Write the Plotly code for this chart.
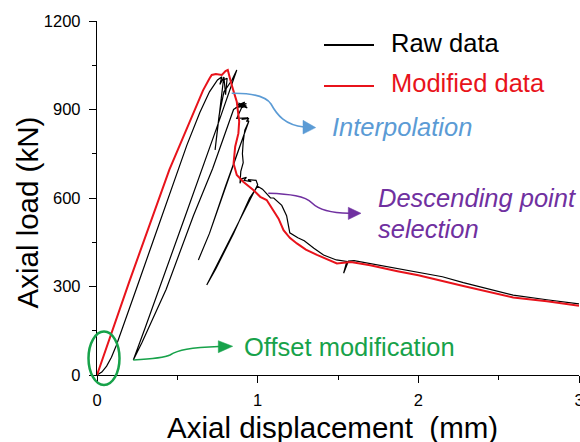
import plotly.graph_objects as go

# ---------------- data ----------------
raw_x = [0, 0.03, 0.06, 0.09, 0.12, 0.15, 0.25, 0.35, 0.475, 0.56, 0.64, 0.70, 0.75, 0.777,
         0.765, 0.790, 0.800, 0.810, 0.787, 0.735, 0.760, 0.790, 0.840, 0.870,
         0.740, 0.550, 0.400, 0.300, 0.226,
         0.280, 0.430, 0.600, 0.720, 0.850, 0.920,
         0.880, 0.930, 0.860, 0.920, 0.935, 0.870, 0.925, 0.880, 0.930, 0.900,
         0.870, 0.940, 0.900, 0.945, 0.930, 0.945,
         0.800, 0.700, 0.631, 0.700, 0.800, 0.945,
         0.920, 0.910, 0.905, 0.910, 0.895, 0.890, 0.900, 0.930, 0.915, 0.960, 0.940,
         0.990, 1.000,
         0.683, 0.740, 0.850, 0.950, 1.000,
         1.030, 1.060, 1.080, 1.100, 1.150, 1.180, 1.190, 1.200, 1.250, 1.290, 1.350, 1.410,
         1.490, 1.555, 1.535, 1.565, 1.600, 1.700, 1.870, 2.000, 2.150, 2.280, 2.450, 2.590,
         2.800, 3.000]
raw_y = [0, 10, 30, 60, 100, 145, 300, 455, 650, 780, 890, 960, 1000, 1011,
         985, 1010, 950, 1006, 1000, 763, 880, 960, 1000, 1034,
         830, 540, 310, 160, 51,
         110, 290, 540, 700, 900, 925,
         915, 920, 905, 912, 905, 918, 910, 922, 912, 906,
         870, 872, 866, 870, 860, 862,
         640, 480, 390, 480, 640, 860,
         830, 790, 750, 720, 690, 650, 665, 670, 660, 655, 662,
         660, 645,
         305, 360, 480, 600, 640,
         630, 612, 600, 600, 575, 540, 510, 482, 465, 455, 430, 407,
         390, 385, 345, 386, 388, 378, 362, 350, 333, 313, 291, 271,
         255, 241]

mod_x = [0, 0.20, 0.45, 0.52, 0.60, 0.66, 0.70, 0.714, 0.74, 0.777, 0.80, 0.814,
         0.84, 0.87, 0.885, 0.88, 0.86, 0.85, 0.87, 0.91, 0.973, 1.016, 1.056, 1.097,
         1.13, 1.161, 1.20, 1.244, 1.30, 1.369, 1.43, 1.493, 1.58, 1.70, 1.87, 2.00,
         2.28, 2.59, 2.80, 3.00]
mod_y = [0, 315, 695, 785, 890, 965, 1005, 1017, 1020, 1017, 1030, 1034,
         980, 926, 860, 819, 774, 717, 678, 655, 627, 604, 593, 559,
         530, 491, 465, 446, 425, 407, 392, 378, 383, 372, 352, 338,
         302, 263, 250, 235]

x_ticks = [0, 1, 2, 3]
x_minor = [0.5, 1.5, 2.5]
y_ticks = [0, 300, 600, 900, 1200]
y_minor = [150, 450, 750, 1050]

FONT = "Liberation Sans, Arial, sans-serif"
RED = "#E8131B"
BLUE = "#5B9BD5"
PURPLE = "#7030A0"
GREEN = "#17A24A"

# ---------------- layout geometry ----------------
W, H = 580, 442
L, R, T, B = 97, 1, 21, 67
PW, PH = W - L - R, H - T - B


def px(x):
    return (x - L) / PW


def py(y):
    return (H - B - y) / PH


def path(cmds):
    out = []
    for c in cmds:
        if isinstance(c, str):
            out.append(c)
        else:
            out.append(f"{px(c[0]):.5f},{py(c[1]):.5f}")
    return " ".join(out)


fig = go.Figure()
fig.add_trace(go.Scatter(x=raw_x, y=raw_y, mode="lines", name="Raw data",
                         line=dict(color="black", width=1.2), showlegend=False))
fig.add_trace(go.Scatter(x=mod_x, y=mod_y, mode="lines", name="Modified data",
                         line=dict(color=RED, width=2), showlegend=False))

shapes = []
# manual legend lines
shapes.append(dict(type="line", xref="paper", yref="paper", x0=px(324), x1=px(374),
                   y0=py(45), y1=py(45), line=dict(color="black", width=2.2)))
shapes.append(dict(type="line", xref="paper", yref="paper", x0=px(324), x1=px(374),
                   y0=py(86), y1=py(86), line=dict(color=RED, width=2.2)))
# green ellipse
shapes.append(dict(type="circle", xref="paper", yref="paper", x0=px(88.5), x1=px(119.5),
                   y0=py(385), y1=py(331.5), line=dict(color=GREEN, width=2.5)))
# arrows
arrows = [
    (BLUE, ["M", (231.7, 93.3), "C", (250, 93), (265, 95), (271, 104),
            "C", (277, 115), (285, 125), (304, 127)],
     [(303, 120.3), (315.7, 127.6), (303, 134)]),
    (PURPLE, ["M", (268.3, 193.3), "C", (290, 194), (305, 196), (312, 203),
              "C", (319, 210), (330, 213), (349, 213.3)],
     [(348.3, 207.3), (361, 213.3), (348.3, 219.5)]),
    (GREEN, ["M", (133.3, 360), "C", (150, 359), (164, 358), (170, 355),
             "C", (178, 350), (190, 347.5), (219, 346.5)],
     [(218.3, 340.7), (232.7, 346.3), (218.3, 352.7)]),
]
for col, cmds, tri in arrows:
    shapes.append(dict(type="path", xref="paper", yref="paper", path=path(cmds),
                       line=dict(color=col, width=1.6)))
    tp = ["M", tri[0], "L", tri[1], "L", tri[2], "Z"]
    shapes.append(dict(type="path", xref="paper", yref="paper", path=path(tp),
                       fillcolor=col, line=dict(color=col, width=0.5)))

ann = []


def text(t, x, y, color, size=25.5, anchor="left", angle=0):
    ann.append(dict(text=t, x=px(x), y=py(y), xref="paper", yref="paper",
                    xanchor=anchor, yanchor="middle", showarrow=False, textangle=angle,
                    font=dict(family=FONT, size=size, color=color)))


text("Raw data", 389, 42.5, "black")
text("Modified data", 389, 82.5, RED)
text("<i>Interpolation</i>", 330, 127.5, BLUE)
text("<i>Descending point</i>", 376, 198, PURPLE)
text("<i>selection</i>", 376, 228.5, PURPLE)
text("Offset modification", 241.5, 347, GREEN)
text("Axial displacement  (mm)", 332, 428, "black", size=29.5, anchor="center")
text("Axial load (kN)", 26.5, 213, "black", size=29.5, anchor="center", angle=-90)

axis_common = dict(showline=True, linecolor="black", linewidth=1.3, ticks="outside",
                   ticklen=7, tickwidth=1.3, tickcolor="black", showgrid=False,
                   zeroline=False, ticklabeloverflow="allow", automargin=False,
                   tickfont=dict(family=FONT, size=16.5, color="black"))

fig.update_layout(
    width=W, height=H, autosize=False,
    margin=dict(l=L, r=R, t=T, b=B, pad=0, autoexpand=False),
    paper_bgcolor="white", plot_bgcolor="white",
    showlegend=False,
    xaxis=dict(range=[0, 3], tickvals=x_ticks, ticktext=[str(v) for v in x_ticks],
               minor=dict(tickvals=x_minor, ticks="outside", ticklen=4, tickwidth=1.3,
                          tickcolor="black"),
               ticklabelstandoff=3, **axis_common),
    yaxis=dict(range=[0, 1200], tickvals=y_ticks, ticktext=[str(v) for v in y_ticks],
               minor=dict(tickvals=y_minor, ticks="outside", ticklen=4, tickwidth=1.3,
                          tickcolor="black"),
               ticklabelstandoff=5, **axis_common),
    shapes=shapes,
    annotations=ann,
)

fig.write_html("out.html")
